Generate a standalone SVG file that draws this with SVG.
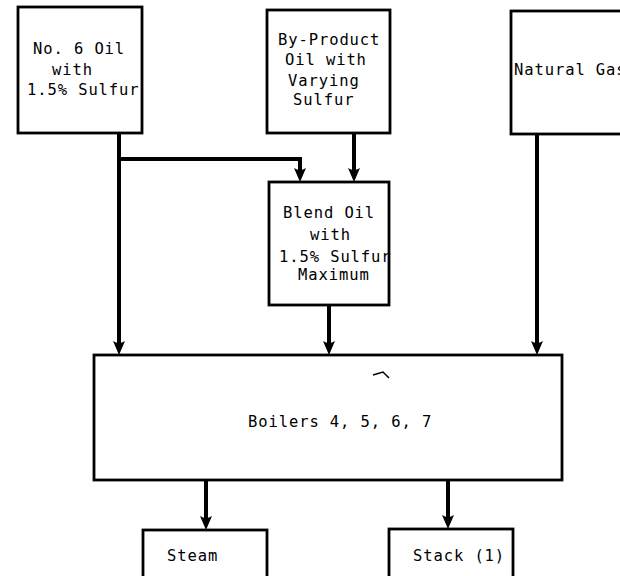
<svg xmlns="http://www.w3.org/2000/svg" width="620" height="576" viewBox="0 0 620 576">
<style>
.box{fill:#fff;stroke:#000;stroke-width:2.8}
.t{font-family:"DejaVu Sans Mono","Liberation Mono",monospace;font-size:15.5px;letter-spacing:0.9px;fill:#000}
.c{fill:none;stroke:#000;stroke-width:4}
</style>
<defs>
<marker id="ah" markerUnits="userSpaceOnUse" viewBox="0 0 14 12" refX="7" refY="6" markerWidth="14" markerHeight="12" orient="auto">
<path d="M0,0 Q4,6 0,12 L14,6 z" fill="#000"/>
</marker>
</defs>
<rect width="620" height="576" fill="#fff"/>
<g id="connectors">
<path class="c" d="M119,133 V348" marker-end="url(#ah)"/>
<path class="c" d="M119,159 H300 V175" marker-end="url(#ah)"/>
<path class="c" d="M354,133 V175" marker-end="url(#ah)"/>
<path class="c" d="M329,305 V348" marker-end="url(#ah)"/>
<path class="c" d="M537,134 V348" marker-end="url(#ah)"/>
<path class="c" d="M206,480 V523" marker-end="url(#ah)"/>
<path class="c" d="M448,480 V522" marker-end="url(#ah)"/>
</g>
<g id="no6oil">
<rect class="box" x="18" y="7" width="124" height="126"/>
<text class="t" x="33" y="54">No. 6 Oil</text>
<text class="t" x="52" y="75">with</text>
<text class="t" x="27" y="95">1.5% Sulfur</text>
</g>
<g id="byproduct">
<rect class="box" x="267" y="10" width="123" height="123"/>
<text class="t" x="278" y="45">By-Product</text>
<text class="t" x="285" y="65">Oil with</text>
<text class="t" x="288" y="86">Varying</text>
<text class="t" x="293" y="105">Sulfur</text>
</g>
<g id="naturalgas">
<rect class="box" x="511" y="11" width="130" height="123"/>
<text class="t" x="514" y="75">Natural Gas</text>
</g>
<g id="blend">
<rect class="box" x="269" y="182" width="120" height="123"/>
<text class="t" x="283" y="218">Blend Oil</text>
<text class="t" x="310" y="240">with</text>
<text class="t" x="279" y="262">1.5% Sulfur</text>
<text class="t" x="298" y="280">Maximum</text>
</g>
<g id="boilers">
<rect class="box" x="94" y="355" width="468" height="125"/>
<text class="t" x="248" y="427">Boilers 4, 5, 6, 7</text>
<path d="M373,375 L383,372 L389,378" fill="none" stroke="#000" stroke-width="1.5"/>
</g>
<g id="steam">
<rect class="box" x="143" y="530" width="124" height="60"/>
<text class="t" x="167" y="561">Steam</text>
</g>
<g id="stack">
<rect class="box" x="389" y="529" width="124" height="60"/>
<text class="t" x="413" y="561">Stack (1)</text>
</g>
</svg>
